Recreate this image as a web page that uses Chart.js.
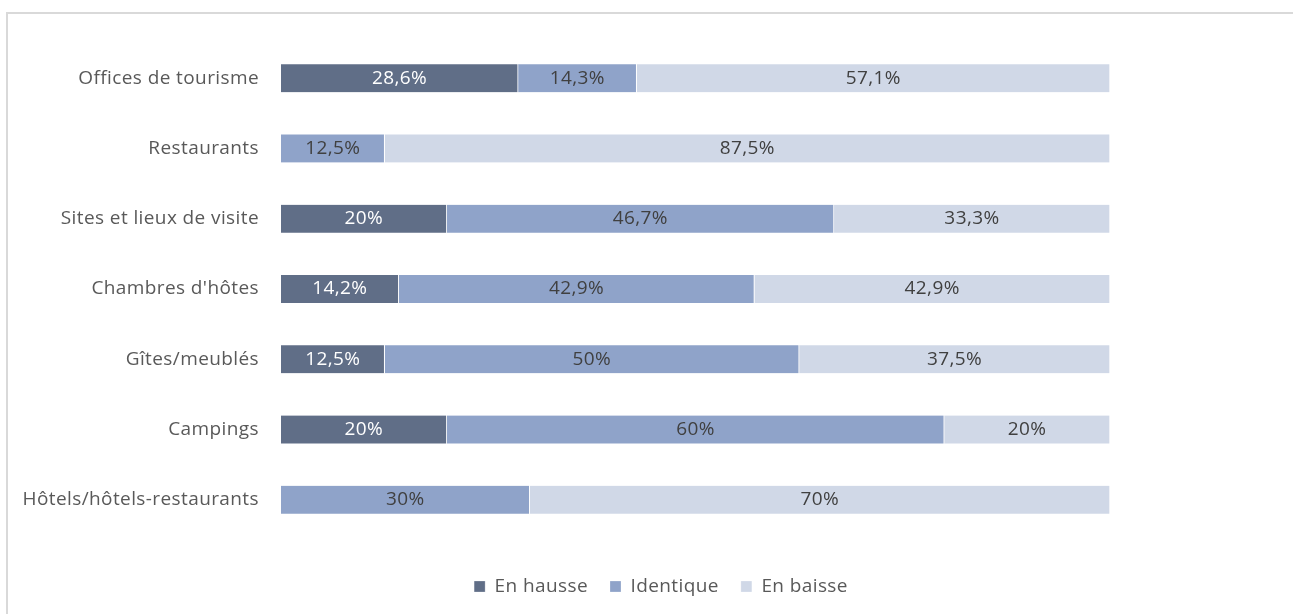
<!DOCTYPE html>
<html lang="fr">
<head>
<meta charset="utf-8">
<title>Évolution par type d'hébergement</title>
<script src="https://cdn.jsdelivr.net/npm/chart.js@4.4.0/dist/chart.umd.min.js"></script>
<style>
  html, body { margin: 0; padding: 0; background: #ffffff; }
  #wrap { position: relative; width: 1293px; height: 614px; overflow: hidden; }
  #frame {
    position: absolute; left: 6px; top: 12px; width: 1400px; height: 700px;
    border-top: 2px solid #d9d9d9; border-left: 2px solid #d9d9d9;
  }
  #chart { position: absolute; left: 0; top: 0; }
</style>
</head>
<body>
<div id="wrap">
  <div id="frame"></div>
  <canvas id="chart" width="1293" height="614"></canvas>
</div>
<script>
  // categories, top to bottom
  const categories = [
    'Offices de tourisme',
    'Restaurants',
    'Sites et lieux de visite',
    "Chambres d'hôtes",
    'Gîtes/meublés',
    'Campings',
    'Hôtels/hôtels-restaurants',
  ];

  // series values (%)
  const enHausse = [28.6, null, 20, 14.2, 12.5, 20, null];
  const identique = [14.3, 12.5, 46.7, 42.9, 50, 60, 30];
  const enBaisse = [57.1, 87.5, 33.3, 42.9, 37.5, 20, 70];

  const seriesNames = ['En hausse', 'Identique', 'En baisse'];

  const fontFamily = '"Open Sans", Lato, sans-serif';
  const textGray = '#595959';

  // wider text, closer to the original geometric font
  const letterSpacing = {
    id: 'letterSpacing',
    beforeUpdate(chart) { chart.ctx.letterSpacing = '0.4px'; },
    beforeDraw(chart) { chart.ctx.letterSpacing = '0.4px'; },
  };

  // draws the value labels in the middle of each segment
  const segmentLabels = {
    id: 'segmentLabels',
    afterDatasetsDraw(chart) {
      const ctx = chart.ctx;
      ctx.save();
      ctx.font = '19px ' + fontFamily;
      ctx.textAlign = 'center';
      ctx.textBaseline = 'middle';
      chart.data.datasets.forEach((ds, i) => {
        const meta = chart.getDatasetMeta(i);
        meta.data.forEach((bar, j) => {
          const v = ds.data[j];
          if (v === null || v === undefined) return;
          const cx = (bar.x + bar.base) / 2;
          ctx.fillStyle = i === 0 ? '#ffffff' : '#404040';
          ctx.fillText(String(v).replace('.', ',') + '%', cx, bar.y);
        });
      });
      ctx.restore();
    },
  };

  const ctx = document.getElementById('chart').getContext('2d');
  new Chart(ctx, {
    type: 'bar',
    data: {
      labels: categories,
      datasets: [
        { label: seriesNames[0], data: enHausse, backgroundColor: '#606e87' },
        { label: seriesNames[1], data: identique, backgroundColor: '#8fa3c9' },
        { label: seriesNames[2], data: enBaisse, backgroundColor: '#d0d8e7' },
      ].map((d) => Object.assign(d, {
        barThickness: 28,
        borderColor: '#ffffff',
        borderWidth: { left: 0, right: 1, top: 0, bottom: 0 },
        borderSkipped: false,
      })),
    },
    options: {
      indexAxis: 'y',
      responsive: false,
      animation: false,
      layout: {
        // negative right padding moves the centred legend to the right
        padding: { left: 0, right: -29, top: 43, bottom: 8 },
      },
      plugins: {
        legend: {
          position: 'bottom',
          labels: {
            boxWidth: 11,
            boxHeight: 11,
            padding: 22,
            color: textGray,
            font: { size: 19, family: fontFamily },
          },
        },
        tooltip: { enabled: false },
      },
      scales: {
        x: {
          stacked: true,
          min: 0,
          max: 100,
          grid: { display: false },
          border: { display: false },
          ticks: { display: false },
          afterFit(scale) {
            scale.height = 20;
          },
        },
        y: {
          stacked: true,
          grid: { display: false },
          border: { display: false },
          ticks: {
            color: textGray,
            padding: 14,
            font: { size: 19, family: fontFamily },
          },
          afterFit(scale) {
            scale.width = 281;
          },
        },
        // empty right-hand axis, keeps the bars off the right margin
        yRight: {
          position: 'right',
          grid: { display: false },
          border: { display: false },
          ticks: { display: false },
          afterFit(scale) {
            scale.width = 212;
          },
        },
      },
    },
    plugins: [letterSpacing, segmentLabels],
  });
</script>
</body>
</html>
